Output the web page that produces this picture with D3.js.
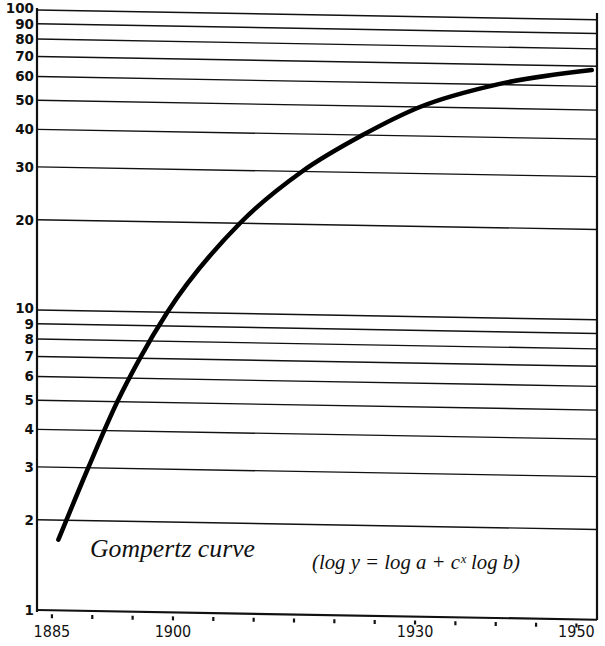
<!DOCTYPE html>
<html>
<head>
<meta charset="utf-8">
<script src="https://cdn.jsdelivr.net/npm/d3@7"></script>
<style>
  body { margin: 0; background: #fff; }
  svg { display: block; }
  .ylab { font: bold 13.5px 'DejaVu Sans', sans-serif; fill: #111; }
  .xlab { font: 16px 'Liberation Sans Narrow', 'DejaVu Sans Condensed', sans-serif; fill: #111; }
  .note { font-family: 'Liberation Serif', 'DejaVu Serif', serif; font-style: italic; fill: #111; }
</style>
</head>
<body>
<div id="chart"></div>
<script>
// curve (year, value)
const years = [1885.8, 1889.5, 1893.1, 1895.9, 1899.3, 1908.3, 1916.0, 1923.5, 1930.6, 1940.1, 1951.9];
const values = [1.72, 3, 5, 7, 10, 20, 30, 40, 50, 60, 68];

const gridValues = [1, 2, 3, 4, 5, 6, 7, 8, 9, 10, 20, 30, 40, 50, 60, 70, 80, 90, 100];
const tickYears = [1885, 1890, 1895, 1900, 1905, 1910, 1915, 1920, 1925, 1930, 1935, 1940, 1945, 1950];
const labelYears = [1885, 1900, 1930, 1950];

const width = 605;
const height = 646;
const left = 37;
const plotWidth = 560;

const svg = d3.select('#chart')
  .append('svg')
  .attr('width', width)
  .attr('height', height);

const x = d3.scaleLinear()
  .domain([1883.15, 1952.55])
  .range([0, plotWidth]);

const y = d3.scaleLog()
  .domain([1, 100])
  .range([610, 10]);

// the printed sheet is slightly sheared, so the plot body is too
const plot = svg.append('g')
  .attr('transform', `translate(${left},0) skewY(1.0)`);

plot.append('g')
  .selectAll('line')
  .data(gridValues)
  .join('line')
  .attr('x1', 0)
  .attr('x2', plotWidth)
  .attr('y1', d => y(d))
  .attr('y2', d => y(d))
  .attr('stroke', '#111')
  .attr('stroke-width', d => d === 1 ? 2.2 : 1.4);

plot.append('g')
  .selectAll('line')
  .data(tickYears)
  .join('line')
  .attr('x1', d => x(d))
  .attr('x2', d => x(d))
  .attr('y1', y(1) + 4)
  .attr('y2', y(1) + 8)
  .attr('stroke', '#111')
  .attr('stroke-width', 2.2);

const line = d3.line()
  .x((d, i) => x(years[i]))
  .y(d => y(d))
  .curve(d3.curveMonotoneX);

plot.append('path')
  .datum(values)
  .attr('d', line)
  .attr('fill', 'none')
  .attr('stroke', '#000')
  .attr('stroke-width', 4.5)
  .attr('stroke-linecap', 'round');

// frame sides
svg.append('line')
  .attr('x1', left).attr('x2', left)
  .attr('y1', 8).attr('y2', 612)
  .attr('stroke', '#111')
  .attr('stroke-width', 2.2);

svg.append('line')
  .attr('x1', left + plotWidth).attr('x2', left + plotWidth)
  .attr('y1', 13).attr('y2', 620)
  .attr('stroke', '#111')
  .attr('stroke-width', 2.2);

// the decade labels sit tight against their neighbours, nudge them apart a little
const nudge = v => (v === 100 || v === 10) ? -1.5 : (v === 90 || v === 9) ? 0.8 : 0;

svg.append('g')
  .selectAll('text')
  .data(gridValues)
  .join('text')
  .attr('class', 'ylab')
  .attr('x', 34)
  .attr('y', d => y(d) + nudge(d))
  .attr('dy', '0.36em')
  .attr('text-anchor', 'end')
  .text(d => d);

svg.append('g')
  .selectAll('text')
  .data(labelYears)
  .join('text')
  .attr('class', 'xlab')
  .attr('x', d => left + x(d))
  .attr('y', 637)
  .attr('text-anchor', 'middle')
  .text(d => d);

svg.append('text')
  .attr('class', 'note')
  .attr('x', 90)
  .attr('y', 557)
  .attr('font-size', 25)
  .attr('textLength', 165)
  .attr('lengthAdjust', 'spacingAndGlyphs')
  .text('Gompertz curve');

svg.append('text')
  .attr('class', 'note')
  .attr('x', 312)
  .attr('y', 569)
  .attr('font-size', 21)
  .attr('textLength', 208)
  .attr('lengthAdjust', 'spacingAndGlyphs')
  .text('(log y = log a + c\u02E3 log b)');
</script>
</body>
</html>
